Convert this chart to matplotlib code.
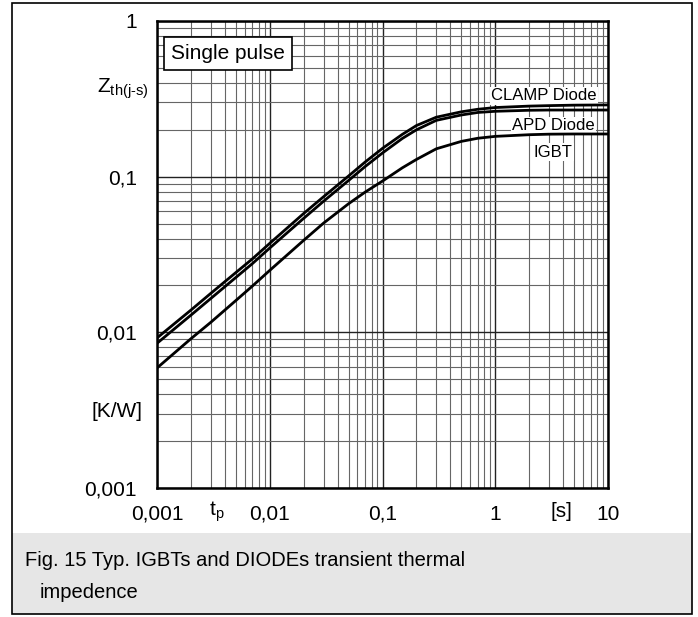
import matplotlib
matplotlib.use("Agg")
import matplotlib.pyplot as plt
from matplotlib.ticker import LogLocator, NullFormatter
from matplotlib.patches import Rectangle

plt.rcParams['font.family'] = ['Liberation Sans', 'DejaVu Sans']

# pulse time [s]
tp = [0.001, 0.002, 0.003, 0.005, 0.007, 0.01, 0.02, 0.03, 0.05, 0.07,
      0.1, 0.15, 0.2, 0.3, 0.5, 0.7, 1, 2, 3, 5, 10]
# thermal impedance [K/W]
clamp = [0.0092, 0.0139, 0.0178, 0.0242, 0.0296, 0.0373, 0.058, 0.0743, 0.101, 0.124,
         0.152, 0.187, 0.213, 0.241, 0.261, 0.271, 0.278, 0.284, 0.286, 0.288, 0.289]
apd = [0.0085, 0.0129, 0.0165, 0.0225, 0.0276, 0.0348, 0.054, 0.0695, 0.0945, 0.116,
       0.142, 0.176, 0.200, 0.230, 0.249, 0.2585, 0.263, 0.267, 0.268, 0.268, 0.268]
igbt = [0.0059, 0.0091, 0.0116, 0.0160, 0.0198, 0.0250, 0.039, 0.0503, 0.067, 0.0795,
        0.0937, 0.114, 0.129, 0.151, 0.1685, 0.1765, 0.1815, 0.186, 0.1875, 0.188, 0.188]

xticks = [0.001, 0.01, 0.1, 1, 10]
xlabels = ['0,001', '0,01', '0,1', '1', '10']
yticks = [0.001, 0.01, 0.1, 1]
ylabels = ['0,001', '0,01', '0,1', '1']

fig = plt.figure(figsize=(6.98, 6.17), dpi=100)
ax = fig.add_axes([157 / 698, 1 - 488 / 617, 451 / 698, 467 / 617])

for y in (clamp, apd, igbt):
    ax.plot(tp, y, color='black', lw=2, zorder=3, solid_joinstyle='round')

ax.set_xscale('log')
ax.set_yscale('log')
ax.set_xlim(0.001, 10)
ax.set_ylim(0.001, 1)

ax.xaxis.set_minor_locator(LogLocator(base=10, subs=range(2, 10)))
ax.yaxis.set_minor_locator(LogLocator(base=10, subs=range(2, 10)))
ax.xaxis.set_minor_formatter(NullFormatter())
ax.yaxis.set_minor_formatter(NullFormatter())
ax.grid(which='major', color='#222222', lw=1.0)
ax.grid(which='minor', color='#666666', lw=0.8)

ax.set_xticks(xticks)
ax.set_xticklabels(xlabels)
ax.set_yticks(yticks)
ax.set_yticklabels(ylabels)
ax.tick_params(which='both', length=0, labelsize=15)
ax.tick_params(axis='x', pad=12)
ax.tick_params(axis='y', pad=14.5)
for s in ax.spines.values():
    s.set_linewidth(1.8)

# extra axis labels
ax.text(0.0034, -0.05, 't$_\\mathregular{p}$', transform=ax.get_xaxis_transform(),
        ha='center', va='center', fontsize=15)
ax.text(3.9, -0.05, '[s]', transform=ax.get_xaxis_transform(),
        ha='center', va='center', fontsize=15)
ax.text(-0.019, 0.37, 'Z$_\\mathregular{th(j\u2011s)}$', transform=ax.get_yaxis_transform(),
        ha='right', va='center', fontsize=15)
ax.text(-0.033, 0.0031, '[K/W]', transform=ax.get_yaxis_transform(),
        ha='right', va='center', fontsize=15)

ax.text(0.031, 0.930, 'Single pulse', transform=ax.transAxes, ha='left', va='center',
        fontsize=15, zorder=5,
        bbox=dict(facecolor='white', edgecolor='black', lw=1.2, pad=5))

lbl_box = dict(facecolor='white', edgecolor='none', pad=1)
ax.text(2.7, 0.33, 'CLAMP Diode', ha='center', va='center', fontsize=12, zorder=2.5, bbox=lbl_box)
ax.text(3.3, 0.212, 'APD Diode', ha='center', va='center', fontsize=12, zorder=2.5, bbox=lbl_box)
ax.text(3.25, 0.144, 'IGBT', ha='center', va='center', fontsize=12, zorder=2.5, bbox=lbl_box)

# caption band and outer frame
fig.patches.append(Rectangle((12 / 698, 1 - 614 / 617), 680 / 698, 81 / 617,
                             transform=fig.transFigure, facecolor='#e6e6e6',
                             edgecolor='none', zorder=0))
fig.patches.append(Rectangle((12 / 698, 1 - 614 / 617), 680 / 698, 611 / 617,
                             transform=fig.transFigure, facecolor='none',
                             edgecolor='black', lw=1.2, zorder=1))
fig.text(25 / 698, 1 - 561 / 617, 'Fig. 15 Typ. IGBTs and DIODEs transient thermal',
         ha='left', va='center', fontsize=14.5)
fig.text(40 / 698, 1 - 593 / 617, 'impedence', ha='left', va='center', fontsize=14.5)

fig.savefig('out.png', dpi=100)
